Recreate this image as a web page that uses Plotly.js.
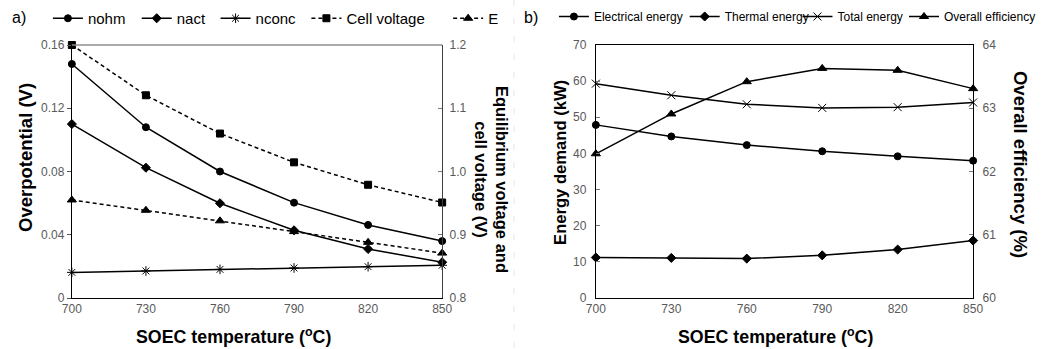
<!DOCTYPE html>
<html>
<head>
<meta charset="utf-8">
<script src="https://cdn.plot.ly/plotly-3.0.1.min.js"></script>
<style>html,body{margin:0;padding:0;background:#fff;}#chart{width:1041px;height:349px;}</style>
</head>
<body>
<div id="chart"></div>
<script>
// Shared x categories (SOEC temperature, °C)
const temperature = [700, 730, 760, 790, 820, 850];

// Panel a) overpotentials (V), left axis
const nohm = [0.148, 0.108, 0.080, 0.0603, 0.0462, 0.036];
const nact = [0.110, 0.0824, 0.0599, 0.0428, 0.031, 0.0226];
const nconc = [0.0162, 0.0171, 0.0181, 0.019, 0.0198, 0.0207];
// Panel a) voltages (V), right axis
const cellVoltage = [1.200, 1.1205, 1.060, 1.0145, 0.979, 0.951];
const equilibriumE = [0.955, 0.9387, 0.922, 0.905, 0.888, 0.871];

// Panel b) energy demand (kW), left axis
const electricalEnergy = [47.9, 44.7, 42.3, 40.6, 39.2, 38.0];
const thermalEnergy = [11.2, 11.1, 10.9, 11.8, 13.4, 15.9];
const totalEnergy = [59.3, 56.1, 53.6, 52.6, 52.8, 54.1];
// Panel b) overall efficiency (%), right axis
const overallEfficiency = [62.28, 62.91, 63.42, 63.63, 63.60, 63.31];

// Tick values
const xTicks = [700, 730, 760, 790, 820, 850];
const yOverTicks = [0, 0.04, 0.08, 0.12, 0.16];
const yVoltTicks = [0.8, 0.9, 1.0, 1.1, 1.2];
const yEnergyTicks = [0, 10, 20, 30, 40, 50, 60, 70];
const yEffTicks = [60, 61, 62, 63, 64];

const W = 1041, H = 349;
const px = v => v / W;
const py = v => 1 - v / H;

const FONT = 'Liberation Sans, Arial, sans-serif';
const line = (dash) => ({color: '#000', width: 1.5, dash: dash || 'solid'});

function tr(name, y, xa, ya, sym, size, dash, legend) {
  return {
    type: 'scatter', mode: 'lines+markers', name: name,
    x: temperature, y: y, xaxis: xa, yaxis: ya,
    line: line(dash),
    marker: {symbol: sym, size: size, color: '#000', line: {color: '#000', width: 1}},
    cliponaxis: false, legend: legend
  };
}

const DASH = '4px,3px';
const data = [
  tr('nohm', nohm, 'x', 'y', 'circle', 7, null, 'legend'),
  tr('nact', nact, 'x', 'y', 'diamond', 7, null, 'legend2'),
  tr('nconc', nconc, 'x', 'y', 'asterisk-open', 8, null, 'legend3'),
  tr('Cell voltage', cellVoltage, 'x', 'y2', 'square', 7, DASH, 'legend4'),
  tr('E', equilibriumE, 'x', 'y2', 'triangle-up', 8, DASH, 'legend5'),
  tr('Electrical energy', electricalEnergy, 'x2', 'y3', 'circle', 7, null, 'legend6'),
  tr('Thermal energy', thermalEnergy, 'x2', 'y3', 'diamond', 7, null, 'legend7'),
  tr('Total energy', totalEnergy, 'x2', 'y3', 'x-thin-open', 8, null, 'legend8'),
  tr('Overall efficiency', overallEfficiency, 'x2', 'y4', 'triangle-up', 8, null, 'legend9')
];

const tickFont = {family: FONT, size: 12, color: '#595959'};
const yDomA = [py(298), py(45)];

const xBase = {
  range: [700, 850], tickvals: xTicks, showgrid: false, zeroline: false,
  showline: true, linecolor: '#000', linewidth: 1, ticks: '', tickfont: tickFont, fixedrange: true
};

function ann(text, x, y, size, angle) {
  return {text: text, xref: 'paper', yref: 'paper', x: px(x), y: py(y), xanchor: 'center', yanchor: 'middle',
    textangle: angle || 0, showarrow: false, font: {family: FONT, size: size, color: '#000'}};
}
// one legend box per entry so each entry sits where the reference puts it (x = text start - 40)
function leg(textStart, size) {
  return {orientation: 'h', x: px(textStart - 40), xanchor: 'left', y: py(2), yanchor: 'top',
    font: {family: FONT, size: size, color: '#000'}, bgcolor: 'rgba(0,0,0,0)', itemwidth: 30, tracegroupgap: 0};
}

const layout = {
  width: W, height: H,
  margin: {l: 0, r: 0, t: 0, b: 0},
  paper_bgcolor: '#fff', plot_bgcolor: '#fff',
  font: {family: FONT, color: '#000'},
  showlegend: true,
  xaxis: Object.assign({}, xBase, {domain: [px(72), px(443)], anchor: 'y'}),
  yaxis: {domain: yDomA, anchor: 'x', range: [0, 0.16], tickvals: yOverTicks, ticktext: ['0', '0.04', '0.08', '0.12', '0.16'],
    showgrid: false, zeroline: false, showline: true, linecolor: '#000', linewidth: 1,
    ticks: 'outside', ticklen: 4, tickcolor: '#555', tickfont: tickFont},
  yaxis2: {overlaying: 'y', side: 'right', anchor: 'x', range: [0.8, 1.2], tickvals: yVoltTicks, ticktext: ['0.8', '0.9', '1.0', '1.1', '1.2'],
    showgrid: false, zeroline: false, showline: true, linecolor: '#404040', linewidth: 1,
    ticks: 'inside', ticklen: 4, tickcolor: '#777', tickfont: tickFont, ticklabelstandoff: 4},
  xaxis2: Object.assign({}, xBase, {domain: [px(597), px(975)], anchor: 'y3', mirror: true}),
  yaxis3: {domain: yDomA, anchor: 'x2', range: [0, 70], tickvals: yEnergyTicks,
    showgrid: false, zeroline: false, showline: true, linecolor: '#000', linewidth: 1,
    ticks: 'inside', ticklen: 4, tickcolor: '#777', tickfont: tickFont, ticklabelstandoff: 6},
  yaxis4: {overlaying: 'y3', side: 'right', anchor: 'x2', range: [60, 64], tickvals: yEffTicks,
    showgrid: false, zeroline: false, showline: true, linecolor: '#000', linewidth: 1,
    ticks: 'inside', ticklen: 4, tickcolor: '#777', tickfont: tickFont, ticklabelstandoff: 6},
  legend: leg(88, 15),
  legend2: leg(177, 15),
  legend3: leg(256, 15),
  legend4: leg(347, 15),
  legend5: leg(489, 15),
  legend6: leg(595, 12),
  legend7: leg(726, 12),
  legend8: leg(839, 12),
  legend9: leg(946, 12),
  shapes: [
    {type: 'line', xref: 'paper', yref: 'paper', x0: px(72), x1: px(443), y0: py(45), y1: py(45), line: {color: '#8c8c8c', width: 1.5}},
    {type: 'line', xref: 'paper', yref: 'paper', x0: px(515), x1: px(515), y0: py(0), y1: py(349), line: {color: '#e6e6e6', width: 1, dash: '6px,12px'}}
  ],
  annotations: [
    ann('a)', 19, 17, 16),
    ann('b)', 532, 17, 16),
    ann('<b>Overpotential (V)</b>', 25, 157, 18.5, -90),
    ann('<b>Equilibrium voltage and<br>cell voltage (V)</b>', 493, 179, 16.5, 90),
    ann('<b>SOEC temperature (<sup>o</sup>C)</b>', 234, 336, 17.8),
    ann('<b>SOEC temperature (<sup>o</sup>C)</b>', 777, 336, 17.8),
    ann('<b>Energy demand (kW)</b>', 561, 162, 16.6, -90),
    ann('<b>Overall efficiency (%)</b>', 1022, 164, 18.5, 90)
  ]
};

Plotly.newPlot('chart', data, layout, {displayModeBar: false, staticPlot: true});
</script>
</body>
</html>
